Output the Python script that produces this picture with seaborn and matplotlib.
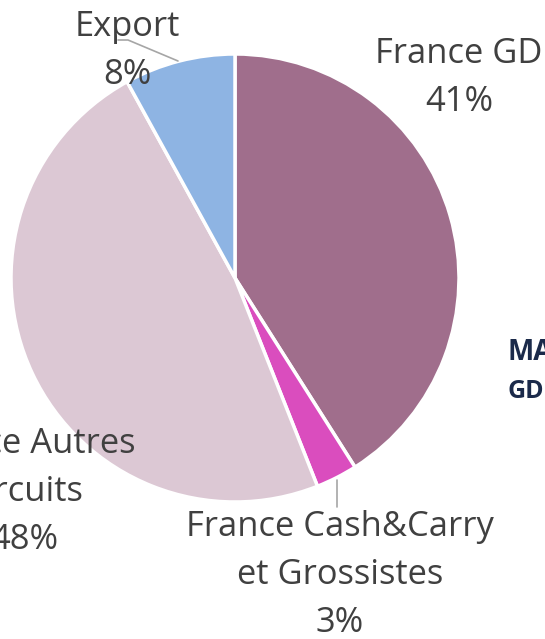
import matplotlib
matplotlib.use("Agg")
from matplotlib import pyplot as plt
import seaborn as sns

# slices, clockwise from 12 o'clock
categories = ["France GD", "France Cash&Carry\net Grossistes", "France Autres\nCircuits", "Export"]
shares = [41, 3, 48, 8]
colors = ["#A06E8C", "#DA4DBE", "#DCC8D4", "#8EB4E3"]

sns.set_theme(style="white")
plt.rcParams["font.family"] = ["Open Sans", "DejaVu Sans"]

fig = plt.figure(figsize=(5.45, 6.39), dpi=100)
ax = fig.add_axes([0, 0, 1, 1])

ax.pie(shares, colors=colors, startangle=90, counterclock=False, radius=1,
       wedgeprops=dict(edgecolor="white", linewidth=2.5))

# pixel -> data: x=(px-235)/224, y=(278-py)/224
ax.set_xlim(-235 / 224, 310 / 224)
ax.set_ylim(-361 / 224, 278 / 224)
ax.set_aspect("auto")
ax.axis("off")

txt = dict(color="#404040", fontsize=24.8, ha="center", va="center", linespacing=1.52)

def p(px, py):
    return (px - 235) / 224, (278 - py) / 224

ax.text(*p(459, 78), f"{categories[0]}\n{shares[0]}%", **txt)
ax.text(*p(340, 575), f"{categories[1]}\n{shares[1]}%", **txt)
ax.text(*p(24, 492), f"{categories[2]}\n{shares[2]}%", **txt)
ax.text(*p(127, 51), f"{categories[3]}\n{shares[3]}%", **txt)

# leader lines
lc = "#A6A6A6"
xs, ys = zip(p(118, 40), p(128, 40), p(178, 61))
ax.plot(xs, ys, color=lc, lw=1.2)
xs, ys = zip(p(337, 480), p(337, 507))
ax.plot(xs, ys, color=lc, lw=1.2)

# fragment of neighbouring caption
ax.text(*p(508, 352), "MA", color="#1B2A4A", fontsize=20, fontweight="bold",
        ha="left", va="center")
ax.text(*p(508, 391), "GD", color="#1B2A4A", fontsize=18, fontweight="bold",
        ha="left", va="center")

fig.savefig("out.png", dpi=100)
